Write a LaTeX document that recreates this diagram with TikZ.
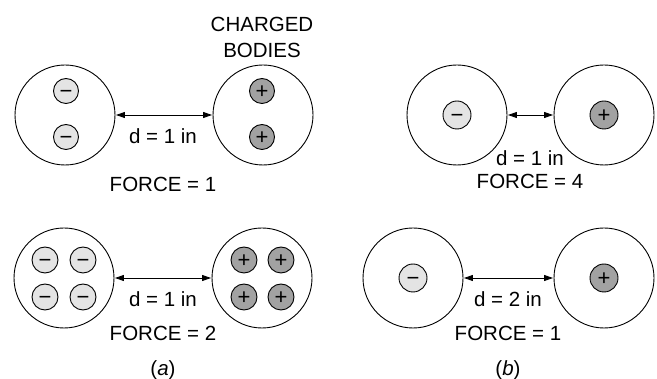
\documentclass[tikz,border=0pt]{standalone}
\usepackage{fontspec}
\setmainfont{Liberation Sans}
\usetikzlibrary{arrows.meta}
\definecolor{neggray}{HTML}{E4E4E4}
\definecolor{posgray}{HTML}{A2A2A2}
\tikzset{
  body/.style={circle, draw, line width=0.9pt, minimum size=100pt, inner sep=0pt},
  chg/.style={circle, draw, line width=0.9pt, inner sep=0pt, font=\fontsize{22}{24}\selectfont, text height=14.5pt, text depth=0pt},
  negchg/.style={chg, fill=neggray},
  poschg/.style={chg, fill=posgray},
  lbl/.style={font=\fontsize{20.5}{23}\selectfont, inner sep=0pt},
  dist/.style={{Triangle[length=9pt,width=6pt]}-{Triangle[length=9pt,width=6pt]}, line width=0.9pt, shorten <=0.5pt, shorten >=0.5pt}
}
\begin{document}
\begin{tikzpicture}[x=1pt,y=-1pt]
\useasboundingbox (0,0) rectangle (657,379);
% ---- (a) top
\node[body] (a1L) at (65,115) {};
\node[body] (a1R) at (263,115) {};
\node[negchg, minimum size=25pt] (a1n1) at (66,91) {−};
\node[negchg, minimum size=25pt] (a1n2) at (66,137) {−};
\node[poschg, minimum size=25pt] (a1p1) at (262,91) {+};
\node[poschg, minimum size=25pt] (a1p2) at (262,137) {+};
\draw[dist] (a1L.east) -- (a1R.west);
\node[lbl] (a1d) at (163,136) {d = 1 in};
\node[lbl] (a1f) at (163,184) {FORCE = 1};
\node[lbl, align=center, font=\fontsize{20.5}{26}\selectfont] (cb) at (262,37) {CHARGED\\BODIES};
% ---- (b) top
\node[body] (b1L) at (457,115) {};
\node[body] (b1R) at (604,115) {};
\node[negchg, minimum size=28pt] (b1n) at (457,115) {−};
\node[poschg, minimum size=28pt] (b1p) at (604,115) {+};
\draw[dist] (b1L.east) -- (b1R.west);
\node[lbl] (b1d) at (530,158) {d = 1 in};
\node[lbl] (b1f) at (530,181) {FORCE = 4};
% ---- (a) bottom
\node[body] (a2L) at (64,278) {};
\node[body] (a2R) at (262,278) {};
\node[negchg, minimum size=26pt] (a2n1) at (45,260) {−};
\node[negchg, minimum size=26pt] (a2n2) at (83,260) {−};
\node[negchg, minimum size=26pt] (a2n3) at (45,297) {−};
\node[negchg, minimum size=26pt] (a2n4) at (83,297) {−};
\node[poschg, minimum size=26pt] (a2p1) at (244,260) {+};
\node[poschg, minimum size=26pt] (a2p2) at (281,260) {+};
\node[poschg, minimum size=26pt] (a2p3) at (244,297) {+};
\node[poschg, minimum size=26pt] (a2p4) at (281,297) {+};
\draw[dist] (a2L.east) -- (a2R.west);
\node[lbl] (a2d) at (163,299) {d = 1 in};
\node[lbl] (a2f) at (163,333) {FORCE = 2};
\node[lbl] (capa) at (163,370) {(\textit{a})};
% ---- (b) bottom
\node[body] (b2L) at (413,278) {};
\node[body] (b2R) at (604,278) {};
\node[negchg, minimum size=28pt] (b2n) at (413,278) {−};
\node[poschg, minimum size=28pt] (b2p) at (604,278) {+};
\draw[dist] (b2L.east) -- (b2R.west);
\node[lbl] (b2d) at (508,299) {d = 2 in};
\node[lbl] (b2f) at (508,333) {FORCE = 1};
\node[lbl] (capb) at (508,370) {(\textit{b})};
\end{tikzpicture}
\end{document}
